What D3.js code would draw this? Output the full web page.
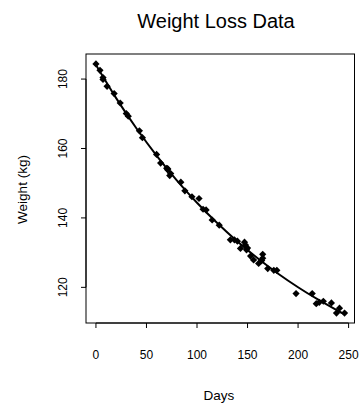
<!DOCTYPE html>
<html><head><meta charset="utf-8">
<script src="https://cdn.jsdelivr.net/npm/d3@7"></script>
<style>html,body{margin:0;padding:0;background:#fff;}svg{display:block;font-family:"Liberation Sans",Arial,Helvetica,sans-serif;}</style>
</head><body>
<script>
const days = [0,4,7,7,11,18,24,30,32,43,46,60,64,70,71,71,73,74,84,88,95,102,106,109,115,122,133,137,140,143,147,148,149,150,153,156,161,164,165,165,170,176,179,198,214,218,221,225,233,238,241,246];
const weight = [184.35,182.51,180.45,179.91,177.91,175.81,173.11,170.06,169.31,165.10,163.11,158.30,155.80,154.31,153.86,154.20,152.20,152.80,150.30,147.80,146.10,145.60,142.50,142.30,139.40,137.90,133.70,133.70,133.30,131.20,133.00,132.20,130.80,131.30,129.00,127.90,126.90,127.70,129.50,128.40,125.40,124.90,124.90,118.20,118.20,115.30,115.70,116.00,115.50,112.60,114.00,112.60];
const fitDays = [0,20,40,60,80,100,120,140,160,180,200,220,240,246];
const fitWeight = [184.06,174.50,165.83,157.97,150.84,144.38,138.52,133.20,128.37,124.00,120.03,116.44,113.17,112.25];
const xTicks = [0,50,100,150,200,250];
const yTicks = [120,140,160,180];
const title = "Weight Loss Data", xLabel = "Days", yLabel = "Weight (kg)";

const W = 360, H = 404;
const L = 86, R = 354.5, T = 54, B = 323;
const svg = d3.select("body").append("svg").attr("width", W).attr("height", H);
const x = d3.scaleLinear().domain([-9.84, 255.84]).range([L, R]);
const y = d3.scaleLinear().domain([109.73, 187.22]).range([B, T]);

// box
svg.append("rect").attr("x", L).attr("y", T).attr("width", R - L).attr("height", B - T)
  .attr("fill", "none").attr("stroke", "#000").attr("stroke-width", 1);

// x axis
const xa = svg.append("g");
xa.append("line").attr("x1", x(xTicks[0])).attr("x2", x(xTicks[xTicks.length-1])).attr("y1", B).attr("y2", B).attr("stroke", "#000");
xa.selectAll("line.t").data(xTicks).join("line").attr("class","t")
  .attr("x1", d => x(d)).attr("x2", d => x(d)).attr("y1", B).attr("y2", B + 5).attr("stroke", "#000");
xa.selectAll("text").data(xTicks).join("text")
  .attr("x", d => x(d)).attr("y", 358.5).attr("text-anchor", "middle").attr("font-size", 12).text(d => d);

// y axis
const ya = svg.append("g");
ya.append("line").attr("x1", L).attr("x2", L).attr("y1", y(yTicks[0])).attr("y2", y(yTicks[yTicks.length-1])).attr("stroke", "#000");
ya.selectAll("line.t").data(yTicks).join("line").attr("class","t")
  .attr("x1", L - 5).attr("x2", L).attr("y1", d => y(d)).attr("y2", d => y(d)).attr("stroke", "#000");
ya.selectAll("text").data(yTicks).join("text")
  .attr("transform", d => `translate(66.5,${y(d)}) rotate(-90)`)
  .attr("text-anchor", "middle").attr("font-size", 12).text(d => d);

// labels
svg.append("text").attr("x", 216).attr("y", 27.5).attr("text-anchor", "middle").attr("font-size", 20).text(title);
svg.append("text").attr("x", 219).attr("y", 400).attr("text-anchor", "middle").attr("font-size", 13.5).text(xLabel);
svg.append("text").attr("transform", `translate(26.5,189.5) rotate(-90)`).attr("text-anchor", "middle").attr("font-size", 13.5).text(yLabel);

// fitted line
const fit = fitDays.map((d, i) => [d, fitWeight[i]]);
svg.append("path").datum(fit)
  .attr("d", d3.line().x(d => x(d[0])).y(d => y(d[1])).curve(d3.curveNatural))
  .attr("fill", "none").attr("stroke", "#000").attr("stroke-width", 2);

// points (filled diamonds)
const r = 3.6;
svg.append("g").selectAll("path").data(days.map((d, i) => [d, weight[i]])).join("path")
  .attr("d", d => { const cx = x(d[0]), cy = y(d[1]); return `M${cx},${cy - r}L${cx + r},${cy}L${cx},${cy + r}L${cx - r},${cy}Z`; })
  .attr("fill", "#000");
</script>
</body></html>
